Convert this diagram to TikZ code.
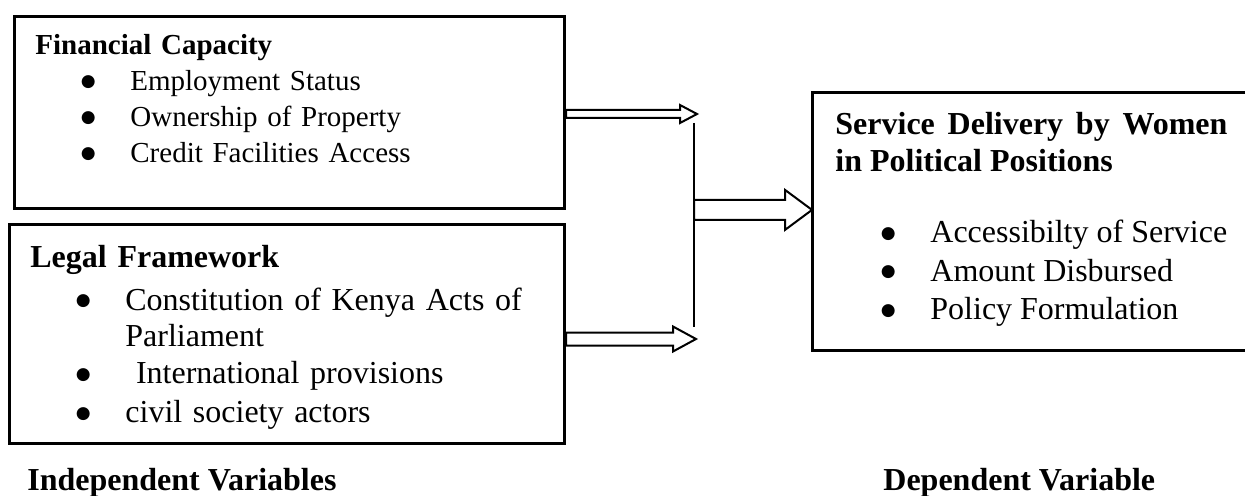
\documentclass[tikz,border=0pt]{standalone}
\usepackage{fontspec}
\setmainfont{Liberation Serif}
\newfontfamily\dotfont{DejaVu Sans}
\usetikzlibrary{positioning, calc}

\tikzset{
  varbox/.style={draw, line width=1.5pt, inner sep=0pt, anchor=north west},
  boxtext/.style={anchor=base west, inner sep=0pt, align=left, text width=#1},
  hollow/.style={line width=1pt, line join=miter},
  joinline/.style={line width=0.6pt},
  caption/.style={anchor=base west, inner sep=0pt, font=\fontsize{16}{19}\selectfont\bfseries}
}
\newcommand{\bul}{\makebox[0pt]{\raisebox{2.4pt}{\fontsize{8.5}{8.5}\dotfont ●}}}
\newcommand{\itm}[1]{\mbox{\makebox[47.5pt][l]{\hspace{26.5pt}\bul}#1}}
\newcommand{\cont}[1]{\mbox{\hspace{47.5pt}#1}}
% hollow block arrow: start, tip, shaft half width, head half width, head length
\newcommand{\blockarrow}[5]{%
  \draw[hollow] ($(#1)+(0,-#3)$) -- ($(#2)+(-#5,-#3)$) -- ($(#2)+(-#5,-#4)$)
    -- (#2) -- ($(#2)+(-#5,#4)$) -- ($(#2)+(-#5,#3)$) -- ($(#1)+(0,#3)$) -- cycle;}

\begin{document}
\begin{tikzpicture}[x=0.5pt, y=-0.5pt]
\useasboundingbox (0,0) rectangle (1245,496);
\clip (0,0) rectangle (1245,496);

% Independent variables
\node[varbox, minimum width=275pt, minimum height=96pt] (fin) at (13,15) {};
\node[boxtext=260pt, font=\fontsize{14.5}{18}\selectfont] (fintxt) at (35,55)
  {\textbf{Financial Capacity}\\ \itm{Employment Status}\\ \itm{Ownership of Property}\\ \itm{Credit Facilities Access}};

\node[varbox, minimum width=277.5pt, minimum height=109.5pt] (leg) at (8,223) {};
\node[boxtext=270pt, font=\fontsize{16}{18.5}\selectfont] (legtxt) at (30,268)
  {\textbf{Legal Framework}\\[2.5pt] \itm{Constitution of Kenya Acts of}\\ \cont{Parliament}\\
   \itm{\ International provisions}\\[1pt] \itm{civil society actors}};

% Dependent variable (its right side is cut off by the page)
\node[varbox, draw=none, minimum width=217pt, minimum height=127pt] (svc) at (812,93) {};
\draw[line width=1.5pt] (svc.north east) -- (svc.north west) -- (svc.south west) -- (svc.south east);
\node[boxtext=196pt, align=justify, font=\fontsize{16}{18.5}\selectfont] (svctxt) at (835,135)
  {\textbf{Service Delivery by Women in Political Positions}\\[17pt]
   \itm{Accessibilty of Service}\\[0.75pt] \itm{Amount Disbursed}\\[0.75pt] \itm{Policy Formulation}};

% Arrows into the joining line
\coordinate (tipA) at (697,114);
\coordinate (tipB) at (696,339);
\coordinate (startA) at (fin.east |- tipA);
\coordinate (startB) at (leg.east |- tipB);
\blockarrow{startA}{tipA}{4}{9}{17}
\blockarrow{startB}{tipB}{6.5}{12.5}{23}

\coordinate (jtop) at (694,123);
\coordinate (jbot) at (694,327);
\draw[joinline] (jtop) -- (jbot);
\coordinate (jmid) at ($(jtop)!0.426!(jbot)$);
\coordinate (tipC) at (svc.west |- jmid);
\blockarrow{jmid}{tipC}{10}{20}{27}

% Captions
\node[caption] (indep) at (27,490) {Independent Variables};
\node[caption] (dep) at (883,490) {Dependent Variable};
\end{tikzpicture}
\end{document}
